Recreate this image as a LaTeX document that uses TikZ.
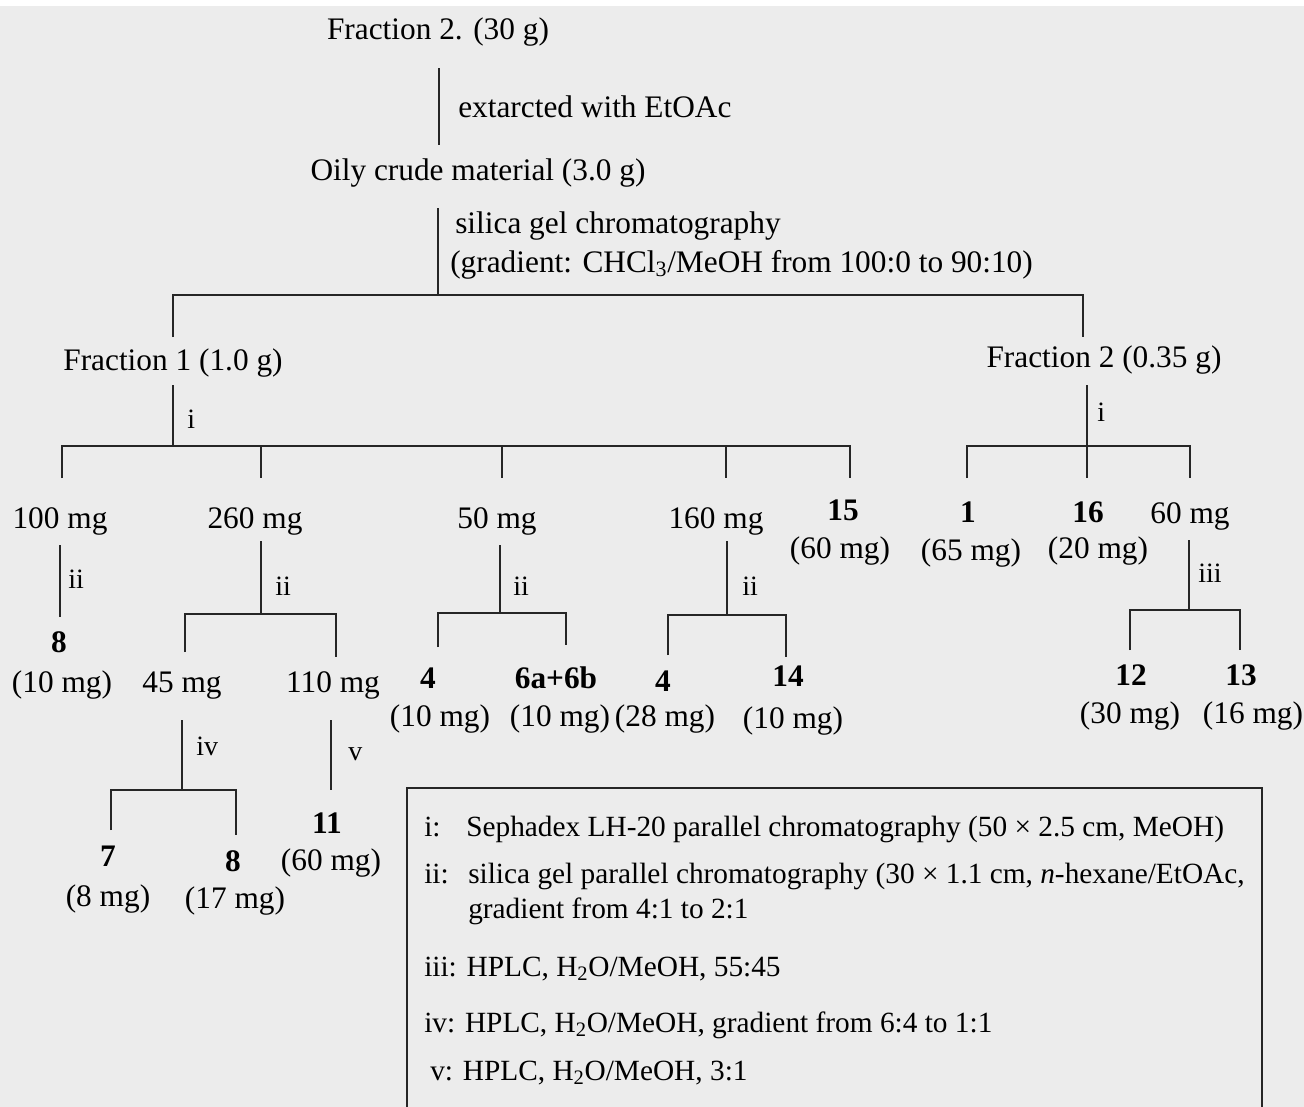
\documentclass[tikz,border=0pt]{standalone}
\usepackage{fontspec}
\setmainfont{Liberation Serif}
\definecolor{bgc}{RGB}{236,236,236}
\begin{document}
\begin{tikzpicture}[x=0.75pt,y=-0.75pt,
  tx/.style={inner sep=0pt,anchor=base,font=\fontsize{23.5}{28}\selectfont},
  bx/.style={tx,font=\fontsize{23.5}{28}\selectfont\bfseries},
  lb/.style={inner sep=0pt,anchor=base west,font=\fontsize{21}{25}\selectfont},
  kt/.style={inner sep=0pt,anchor=base west,font=\fontsize{22}{26}\selectfont},
  ln/.style={line width=1.1pt,black!85}]
\useasboundingbox (0,0) rectangle (1304,1107);
\fill[bgc] (0,6) rectangle (1304,1107);
\fill[white] (0,0) rectangle (1304,6);

% ---- text nodes
\node[tx] (ftop) at (438,39) {Fraction 2. (30 g)};
\node[lb,font=\fontsize{23.5}{28}\selectfont] (lext) at (458,117) {extarcted with EtOAc};
\node[tx] (oily) at (478,180) {Oily crude material (3.0 g)};
\node[lb,font=\fontsize{23.5}{28}\selectfont] (lsil) at (455,233) {silica gel chromatography};
\node[lb,font=\fontsize{23.5}{28}\selectfont] (lgrad) at (450,272) {(gradient: CHCl\textsubscript{3}/MeOH from 100:0 to 90:10)};
\node[tx] (f1) at (173,370) {Fraction 1 (1.0 g)};
\node[tx] (f2) at (1104,367) {Fraction 2 (0.35 g)};
\node[lb] (li1) at (187,428) {i};
\node[lb] (li2) at (1097,421) {i};

\node[tx] (m100) at (60,528) {100 mg};
\node[tx] (m260) at (255,528) {260 mg};
\node[tx] (m50) at (497,528) {50 mg};
\node[tx] (m160) at (716,528) {160 mg};
\node[bx] (c15) at (843,520) {15};
\node[tx] (c15m) at (840,558) {(60 mg)};
\node[bx] (c1) at (968,522) {1};
\node[tx] (c1m) at (971,560) {(65 mg)};
\node[bx] (c16) at (1088,522) {16};
\node[tx] (c16m) at (1098,558) {(20 mg)};
\node[tx] (m60) at (1190,523) {60 mg};

\node[lb] (liii) at (1198,582) {iii};
\node[bx] (c12) at (1131,685) {12};
\node[tx] (c12m) at (1130,723) {(30 mg)};
\node[bx] (c13) at (1241,685) {13};
\node[tx] (c13m) at (1253,723) {(16 mg)};

\node[lb] (lii1) at (68,588) {ii};
\node[bx] (c8a) at (59,652) {8};
\node[tx] (c8am) at (62,692) {(10 mg)};

\node[lb] (lii2) at (275,595) {ii};
\node[tx] (m45) at (182,692) {45 mg};
\node[tx] (m110) at (333,692) {110 mg};
\node[lb] (liv) at (196,755) {iv};
\node[bx] (c7) at (108,866) {7};
\node[tx] (c7m) at (108,906) {(8 mg)};
\node[bx] (c8b) at (233,871) {8};
\node[tx] (c8bm) at (235,908) {(17 mg)};
\node[lb] (lv) at (348,760) {v};
\node[bx] (c11) at (327,833) {11};
\node[tx] (c11m) at (331,870) {(60 mg)};

\node[lb] (lii3) at (513,595) {ii};
\node[bx] (c4a) at (428,688) {4};
\node[tx] (c4am) at (440,726) {(10 mg)};
\node[bx] (c6) at (556,688) {6a+6b};
\node[tx] (c6m) at (560,726) {(10 mg)};

\node[lb] (lii4) at (742,595) {ii};
\node[bx] (c4b) at (663,691) {4};
\node[tx] (c4bm) at (665,726) {(28 mg)};
\node[bx] (c14) at (788,686) {14};
\node[tx] (c14m) at (793,728) {(10 mg)};

% ---- connectors
\draw[ln] (439,68) -- (439,145);
\draw[ln] (438,208) -- (438,295);
\draw[ln] (173,337) -- (173,295) -- (1083,295) -- (1083,337);

\draw[ln] (173,385) -- (173,446);
\draw[ln] (62,478) -- (62,446) -- (850,446) -- (850,478);
\foreach \xx in {261,502,726} \draw[ln] (\xx,446) -- (\xx,478);

\draw[ln] (1087,385) -- (1087,478);
\draw[ln] (967,478) -- (967,446) -- (1190,446) -- (1190,478);

\draw[ln] (60,545) -- (60,617);

\draw[ln] (261,541) -- (261,614);
\draw[ln] (185,652) -- (185,614) -- (336,614) -- (336,657);
\draw[ln] (182,720) -- (182,790);
\draw[ln] (111,830) -- (111,790) -- (236,790) -- (236,835);
\draw[ln] (331,720) -- (331,790);

\draw[ln] (500,545) -- (500,613);
\draw[ln] (438,647) -- (438,613) -- (566,613) -- (566,645);

\draw[ln] (727,541) -- (727,615);
\draw[ln] (668,655) -- (668,615) -- (786,615) -- (786,657);

\draw[ln] (1189,540) -- (1189,610);
\draw[ln] (1130,650) -- (1130,610) -- (1240,610) -- (1240,650);

% ---- key box
\begin{scope}
\clip (0,0) rectangle (1304,1107);
\draw[line width=1.5pt,black!85] (407,1130) -- (407,788) -- (1262,788) -- (1262,1130);
\end{scope}
\node[kt] (ki) at (424,836) {i:};
\node[kt] (kit) at (466,836) {Sephadex LH-20 parallel chromatography (50 × 2.5 cm, MeOH)};
\node[kt] (kii) at (424,883) {ii:};
\node[kt] (kiit) at (468,883) {silica gel parallel chromatography (30 × 1.1 cm, \textit{n}-hexane/EtOAc,};
\node[kt] (kiit2) at (468,918) {gradient from 4:1 to 2:1};
\node[kt] (kiii) at (424,976) {iii: HPLC, H\textsubscript{2}O/MeOH, 55:45};
\node[kt] (kiv) at (424,1032) {iv: HPLC, H\textsubscript{2}O/MeOH, gradient from 6:4 to 1:1};
\node[kt] (kv) at (430,1080) {v: HPLC, H\textsubscript{2}O/MeOH, 3:1};
\end{tikzpicture}
\end{document}
